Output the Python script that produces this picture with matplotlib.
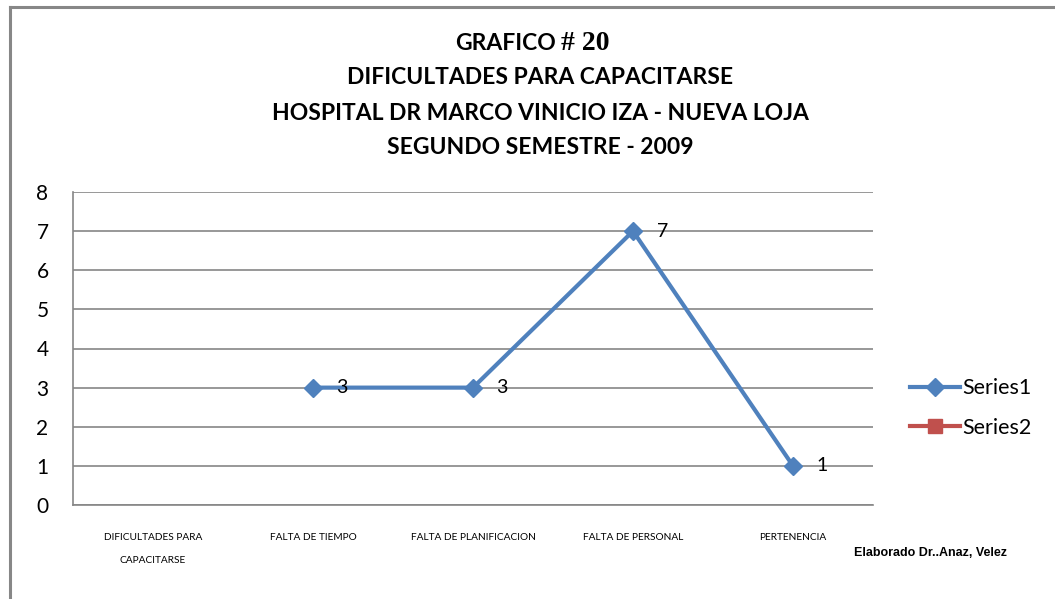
import matplotlib
matplotlib.use("Agg")
import matplotlib.pyplot as plt
import numpy as np

categories = ["DIFICULTADES PARA\n\nCAPACITARSE", "FALTA DE TIEMPO", "FALTA DE PLANIFICACION",
              "FALTA DE PERSONAL", "PERTENENCIA"]
series1 = [np.nan, 3, 3, 7, 1]
series2 = [np.nan, np.nan, np.nan, np.nan, np.nan]
yticks = [0, 1, 2, 3, 4, 5, 6, 7, 8]

fig = plt.figure(figsize=(10.55, 5.99), dpi=100)
fig.patch.set_facecolor("white")

# outer frame (left and top visible)
fig.add_artist(plt.Line2D([10/1055, 10/1055], [0, 1 - 7/599], color="#878787", lw=2.2, transform=fig.transFigure))
fig.add_artist(plt.Line2D([10/1055, 1], [1 - 7/599, 1 - 7/599], color="#878787", lw=2.2, transform=fig.transFigure))

ax = fig.add_axes([73/1055, 1 - 505/599, 800/1055, 313/599])
x = np.arange(len(categories))
ax.plot(x, series1, color="#4F81BD", lw=3, marker="D", markersize=9,
        markerfacecolor="#4F81BD", markeredgecolor="#4F81BD", label="Series1")
ax.plot(x, series2, color="#C0504D", lw=3, marker="s", markersize=10,
        markerfacecolor="#C0504D", markeredgecolor="#C0504D", label="Series2")

for xi, v in zip(x, series1):
    if not np.isnan(v):
        ax.annotate(f"{int(v)}", (xi, v), xytext=(17, 0), textcoords="offset points",
                    va="center", ha="left", fontsize=14, family="Lato")

ax.set_xlim(-0.5, len(categories) - 0.5)
ax.set_ylim(0, 8)
ax.set_yticks(yticks)
ax.set_yticklabels([str(t) for t in yticks], fontsize=15, family="Lato")
ax.set_xticks(x)
ax.set_xticklabels(categories, fontsize=7.3, family="Lato", linespacing=1.4)
ax.tick_params(axis="both", length=0)
ax.tick_params(axis="y", pad=22)
ax.tick_params(axis="x", pad=20)
for lab in ax.get_yticklabels():
    lab.set_horizontalalignment("center")
ax.yaxis.grid(True, color="#868686", lw=1.2)
ax.set_axisbelow(True)
for s in ["top", "right"]:
    ax.spines[s].set_visible(False)
for s in ["left", "bottom"]:
    ax.spines[s].set_color("#868686")
    ax.spines[s].set_linewidth(1.2)

leg = fig.legend(loc="center left", bbox_to_anchor=(891/1055, 1 - 408/599), frameon=False,
                 prop={"family": "Lato", "size": 15.5}, handlelength=2.3,
                 handletextpad=0.1, labelspacing=0.9)

title_lines = ["DIFICULTADES PARA CAPACITARSE",
               "HOSPITAL DR MARCO VINICIO IZA - NUEVA LOJA", "SEGUNDO SEMESTRE - 2009"]
ys = [78, 113, 147]
fig.text(556/1055, 1 - 44/599, "GRAFICO", ha="right", va="center", fontsize=16.5,
         fontweight="bold", family="Lato")
fig.text(561/1055, 1 - 44/599, "# 20", ha="left", va="center", fontsize=20,
         fontweight="bold", family="Liberation Serif")
for t, yy in zip(title_lines, ys):
    fig.text(540/1055, 1 - yy/599, t, ha="center", va="center", fontsize=16.5,
             fontweight="bold", family="Lato")

fig.text(931/1055, 1 - 553/599, "Elaborado Dr..Anaz, Velez", ha="center", va="center",
         fontsize=9, fontweight="bold", family="Liberation Sans")

fig.savefig("out.png", dpi=100, facecolor="white")
